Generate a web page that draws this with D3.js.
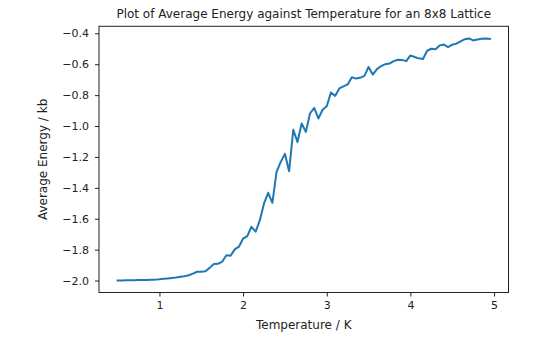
<!DOCTYPE html>
<html>
<head>
<meta charset="utf-8">
<script src="https://cdn.jsdelivr.net/npm/d3@7"></script>
<style>
  body { margin: 0; background: #fff; }
  text { font-family: "DejaVu Sans", sans-serif; fill: #222; }
  .eixo path, .eixo line { stroke: #222; }
</style>
</head>
<body>
<svg id="grafico"></svg>
<script>
// temperatura (K)
const temperaturas = [
  0.50, 0.55, 0.60, 0.65, 0.70, 0.75, 0.80, 0.85, 0.90, 0.95,
  1.00, 1.05, 1.10, 1.15, 1.20, 1.25, 1.30, 1.35, 1.40, 1.45,
  1.50, 1.55, 1.60, 1.65, 1.70, 1.75, 1.80, 1.85, 1.90, 1.95,
  2.00, 2.05, 2.10, 2.15, 2.20, 2.25, 2.30, 2.35, 2.40, 2.45,
  2.50, 2.55, 2.60, 2.65, 2.70, 2.75, 2.80, 2.85, 2.90, 2.95,
  3.00, 3.05, 3.10, 3.15, 3.20, 3.25, 3.30, 3.35, 3.40, 3.45,
  3.50, 3.55, 3.60, 3.65, 3.70, 3.75, 3.80, 3.85, 3.90, 3.95,
  4.00, 4.05, 4.10, 4.15, 4.20, 4.25, 4.30, 4.35, 4.40, 4.45,
  4.50, 4.55, 4.60, 4.65, 4.70, 4.75, 4.80, 4.85, 4.90, 4.95
];

// energia media / kb
const energias = [
  -1.999, -1.999, -1.998, -1.998, -1.998, -1.997, -1.997, -1.996, -1.995, -1.994,
  -1.992, -1.989, -1.986, -1.983, -1.980, -1.976, -1.972, -1.966, -1.955, -1.943,
  -1.943, -1.940, -1.918, -1.893, -1.892, -1.878, -1.836, -1.840, -1.798, -1.781,
  -1.728, -1.712, -1.652, -1.684, -1.609, -1.501, -1.432, -1.497, -1.297, -1.232,
  -1.180, -1.292, -1.024, -1.103, -0.984, -1.038, -0.919, -0.883, -0.951, -0.895,
  -0.872, -0.783, -0.805, -0.757, -0.743, -0.731, -0.684, -0.693, -0.688, -0.676,
  -0.618, -0.667, -0.632, -0.612, -0.600, -0.596, -0.580, -0.571, -0.572, -0.580,
  -0.543, -0.553, -0.562, -0.566, -0.513, -0.500, -0.503, -0.479, -0.473, -0.489,
  -0.474, -0.467, -0.452, -0.438, -0.433, -0.446, -0.440, -0.436, -0.434, -0.436
];

const ticksX = [1, 2, 3, 4, 5];
const ticksY = [-2.0, -1.8, -1.6, -1.4, -1.2, -1.0, -0.8, -0.6, -0.4];

const titulo = 'Plot of Average Energy against Temperature for an 8x8 Lattice';
const tituloX = 'Temperature / K';
const tituloY = 'Average Energy / kb';

const largura = 550, altura = 351;
const margem = { esquerda: 99, direita: 41.5, superior: 26.3, inferior: 58.5 };
const larguraPlotagem = largura - margem.esquerda - margem.direita;
const alturaPlotagem = altura - margem.superior - margem.inferior;

const dados = temperaturas.map((t, i) => ({ t: t, e: energias[i] }));

// margens de 5% como no matplotlib
function comMargem(ext) {
  const r = ext[1] - ext[0];
  return [ext[0] - r * 0.05, ext[1] + r * 0.05];
}

const x = d3.scaleLinear().domain(comMargem(d3.extent(temperaturas))).range([0, larguraPlotagem]);
const y = d3.scaleLinear().domain(comMargem(d3.extent(energias))).range([alturaPlotagem, 0]);

const svg = d3.select('#grafico').attr('width', largura).attr('height', altura);
const plotagem = svg.append('g').attr('transform', `translate(${margem.esquerda}, ${margem.superior})`);

const menos = v => d3.format('.1f')(v).replace('-', '\u2212');

const eixoX = d3.axisBottom(x).tickValues(ticksX).tickFormat(d3.format('d')).tickSize(4).tickPadding(5);
const eixoY = d3.axisLeft(y).tickValues(ticksY).tickFormat(menos).tickSize(4).tickPadding(6);

plotagem.append('g')
  .attr('class', 'eixo')
  .attr('transform', 'translate(0, ' + alturaPlotagem + ')')
  .call(eixoX)
  .call(g => g.select('.domain').remove())
  .selectAll('text').style('font-size', '11px').attr('fill', '#222');

plotagem.append('g')
  .attr('class', 'eixo')
  .call(eixoY)
  .call(g => g.select('.domain').remove())
  .selectAll('text').style('font-size', '11px').attr('fill', '#222');

const linha = d3.line().x(d => x(d.t)).y(d => y(d.e));

plotagem.append('path')
  .datum(dados)
  .attr('fill', 'none')
  .attr('stroke', '#1f77b4')
  .attr('stroke-width', 2)
  .attr('stroke-linejoin', 'round')
  .attr('stroke-linecap', 'square')
  .attr('d', linha);

// moldura
plotagem.append('rect')
  .attr('x', 0)
  .attr('y', 0)
  .attr('width', larguraPlotagem)
  .attr('height', alturaPlotagem)
  .attr('fill', 'none')
  .attr('stroke', '#222')
  .attr('stroke-width', 1);

plotagem.append('text')
  .attr('x', larguraPlotagem / 2)
  .attr('y', -8.5)
  .style('text-anchor', 'middle')
  .style('font-size', '12px')
  .text(titulo);

plotagem.append('text')
  .attr('x', larguraPlotagem / 2)
  .attr('y', alturaPlotagem + 37)
  .style('text-anchor', 'middle')
  .style('font-size', '12px')
  .text(tituloX);

plotagem.append('text')
  .attr('x', 0)
  .attr('y', 0)
  .style('text-anchor', 'middle')
  .style('font-size', '12px')
  .attr('transform', 'translate(-52, ' + alturaPlotagem / 2 + ') rotate(-90)')
  .text(tituloY);
</script>
</body>
</html>
